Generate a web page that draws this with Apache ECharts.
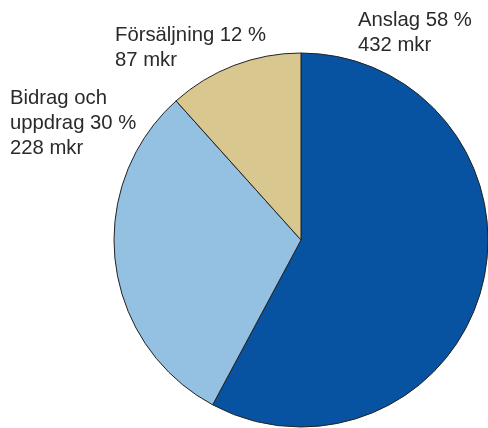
<!DOCTYPE html>
<html>
<head>
<meta charset="utf-8">
<script src="https://cdn.jsdelivr.net/npm/echarts@6/dist/echarts.min.js"></script>
<style>html,body{margin:0;padding:0;background:#fff}#c{width:488px;height:428px}</style>
</head>
<body>
<div id="c"></div>
<script>
var categories = ['Anslag', 'Bidrag och uppdrag', 'Försäljning'];
var labelNames = ['Anslag', 'Bidrag och\nuppdrag', 'Försäljning'];
var values = [432, 228, 87];
var percents = [58, 30, 12];
var unit = 'mkr';

var colors = ['#0753a1', '#94c0e2', '#d8c78f'];
var labelPos = [
  { x: 358, y: 8 },
  { x: 10, y: 86 },
  { x: 115, y: 23 }
];

var chart = echarts.init(document.getElementById('c'), null, { renderer: 'canvas' });
chart.setOption({
  animation: false,
  graphic: categories.map(function (c, i) {
    return {
      type: 'text',
      left: labelPos[i].x,
      top: labelPos[i].y,
      style: {
        text: labelNames[i] + ' ' + percents[i] + ' %\n' + values[i] + ' ' + unit,
        fontFamily: 'Liberation Sans, Helvetica, Arial, sans-serif',
        fontSize: 20.3,
        lineHeight: 25,
        fill: '#2a2a2a'
      }
    };
  }),
  series: [{
    type: 'pie',
    center: [301, 240],
    radius: 187,
    startAngle: 90,
    clockwise: true,
    data: categories.map(function (c, i) {
      return { name: c, value: values[i], itemStyle: { color: colors[i] } };
    }),
    itemStyle: { borderColor: '#222', borderWidth: 1 },
    emphasis: { disabled: true },
    labelLine: { show: false },
    label: { show: false }
  }]
});
</script>
</body>
</html>
